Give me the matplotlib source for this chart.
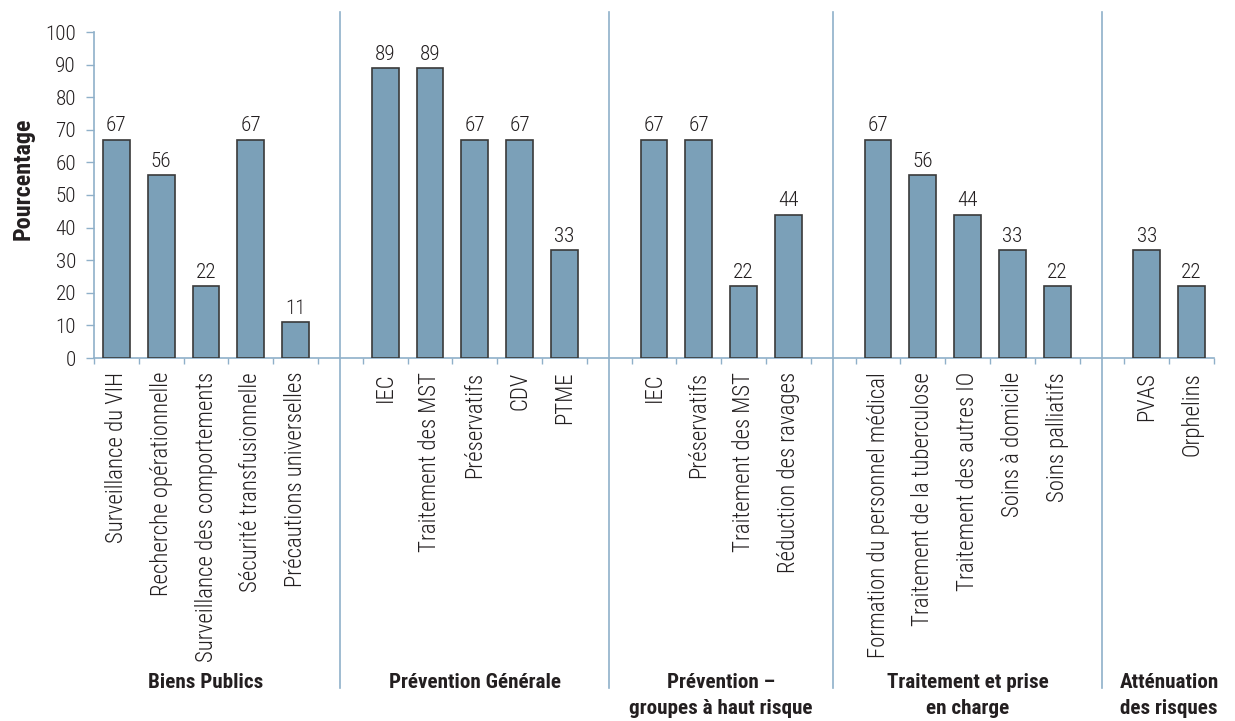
import os
import matplotlib
matplotlib.use("Agg")
import matplotlib.pyplot as plt
import matplotlib.transforms as mtransforms
from matplotlib import font_manager
from matplotlib.font_manager import FontProperties
from matplotlib.textpath import TextPath

groupes = ["Biens Publics", "Prévention Générale", "Prévention –\ngroupes à haut risque",
           "Traitement et prise\nen charge", "Atténuation\ndes risques"]

categories = [
    ["Surveillance du VIH", "Recherche opérationnelle", "Surveillance des comportements",
     "Sécurité transfusionnelle", "Précautions universelles"],
    ["IEC", "Traitement des MST", "Préservatifs", "CDV", "PTME"],
    ["IEC", "Préservatifs", "Traitement des MST", "Réduction des ravages"],
    ["Formation du personnel médical", "Traitement de la tuberculose",
     "Traitement des autres IO", "Soins à domicile", "Soins palliatifs"],
    ["PVAS", "Orphelins"],
]

valeurs = [
    [67, 56, 22, 67, 11],
    [89, 89, 67, 67, 33],
    [67, 67, 22, 44],
    [67, 56, 44, 33, 22],
    [33, 22],
]

couleur_barre = "#7ba0b8"
couleur_axe = "#8fb0c9"
couleur_texte = "#231f20"


def police(motifs):
    """Premier fichier de police étroite trouvé, sinon None (DejaVu Sans)."""
    fichiers = [f.fname for f in font_manager.fontManager.ttflist]
    for m in motifs:
        for f in fichiers:
            if os.path.basename(f).lower().startswith(m.lower()):
                return f
    return None


f_normal = police(["RobotoCondensed-Light", "RobotoCondensed-Regular", "Roboto_Condensed-Light",
                   "LiberationSansNarrow-Regular", "NotoSans-CondensedLight",
                   "NotoSans-Condensed.", "DejaVuSansCondensed."])
f_gras = police(["RobotoCondensed-Bold.", "Roboto_Condensed-Bold.", "LiberationSansNarrow-Bold.",
                 "NotoSans-CondensedBold.", "DejaVuSansCondensed-Bold."])


def fp(fichier, gras=False):
    if fichier:
        return FontProperties(fname=fichier)
    return FontProperties(family="DejaVu Sans", weight="bold" if gras else "normal")


fig = plt.figure(figsize=(12.35, 7.21), dpi=100)
rendu = fig.canvas.get_renderer()


def taille_largeur(texte, prop, largeur):
    # taille de police donnant la largeur voulue (pixels)
    p = prop.copy()
    p.set_size(10)
    t = fig.text(0, 0, texte, fontproperties=p)
    w = t.get_window_extent(rendu).width
    t.remove()
    return 10 * largeur / w


def taille_hauteur(texte, prop, hauteur):
    # taille de police donnant la hauteur de glyphe voulue (pixels)
    p = prop.copy()
    p.set_size(10)
    h = TextPath((0, 0), texte, prop=p).get_extents().height
    return 10 * (hauteur * 72 / 100) / h


p_cat = fp(f_normal)
p_cat.set_size(1.05 * taille_largeur("Formation du personnel médical", p_cat, 273))
p_num = fp(f_normal)
p_num.set_size(taille_hauteur("100", p_num, 15.5))
p_grp = fp(f_gras, True)
p_grp.set_size(taille_hauteur("B", p_grp, 15))
p_ylab = fp(f_gras, True)
p_ylab.set_size(taille_largeur("Pourcentage", p_ylab, 122))

ax = fig.add_axes([94 / 1235, 1 - 358 / 721, (1214 - 94) / 1235, (358 - 32) / 721])

# positions : un emplacement vide entre chaque groupe
positions, etiquettes, hauteurs, separateurs, centres = [], [], [], [], []
x = 0
for g, (cats, vals) in enumerate(zip(categories, valeurs)):
    debut = x
    for c, v in zip(cats, vals):
        positions.append(x)
        etiquettes.append(c)
        hauteurs.append(v)
        x += 1
    centres.append((debut + x - 1) / 2)
    if g < len(groupes) - 1:
        separateurs.append(x)
        x += 1
n = x

barres = ax.bar(positions, hauteurs, width=0.6, color=couleur_barre,
                edgecolor="#3a3a3a", linewidth=1.2, zorder=3)
for b, v in zip(barres, hauteurs):
    ax.text(b.get_x() + b.get_width() / 2, v + 2.5, str(v), ha="center", va="baseline",
            fontproperties=p_num, color=couleur_texte)

ax.set_xlim(-0.5, n - 0.5)
ax.set_ylim(0, 100)
ax.set_yticks(range(0, 101, 10))
ax.set_xticks(positions)
ax.set_xticklabels(etiquettes, rotation=90, va="top")
ax.set_xticks([i - 0.5 for i in range(n + 1)], minor=True)
ax.tick_params(axis="x", which="major", length=0, pad=10, labelcolor=couleur_texte)
ax.tick_params(axis="x", which="minor", length=4, width=1, color=couleur_axe)
ax.tick_params(axis="y", length=6, width=1, color=couleur_axe,
               labelcolor=couleur_texte, pad=7)
for lbl in ax.get_xticklabels():
    lbl.set_fontproperties(p_cat)
for lbl in ax.get_yticklabels():
    lbl.set_fontproperties(p_num)

for cote in ["top", "right"]:
    ax.spines[cote].set_visible(False)
for cote in ["left", "bottom"]:
    ax.spines[cote].set_color(couleur_axe)
    ax.spines[cote].set_linewidth(1.2)

fig.text(23 / 1235, 1 - 179 / 721, "Pourcentage", rotation=90, ha="center", va="center",
         fontproperties=p_ylab, color=couleur_texte)

# séparateurs verticaux entre les groupes
trans = mtransforms.blended_transform_factory(ax.transData, fig.transFigure)
for s in separateurs:
    ax.plot([s, s], [1 - 12 / 721, 1 - 688 / 721], transform=trans, color=couleur_axe,
            linewidth=1.2, clip_on=False)

for c, nom in zip(centres, groupes):
    for k, ligne in enumerate(nom.split("\n")):
        ax.text(c, 1 - (688 + 26 * k) / 721, ligne, transform=trans, ha="center",
                va="baseline", fontproperties=p_grp, color=couleur_texte)

fig.savefig("out.png", dpi=100)
